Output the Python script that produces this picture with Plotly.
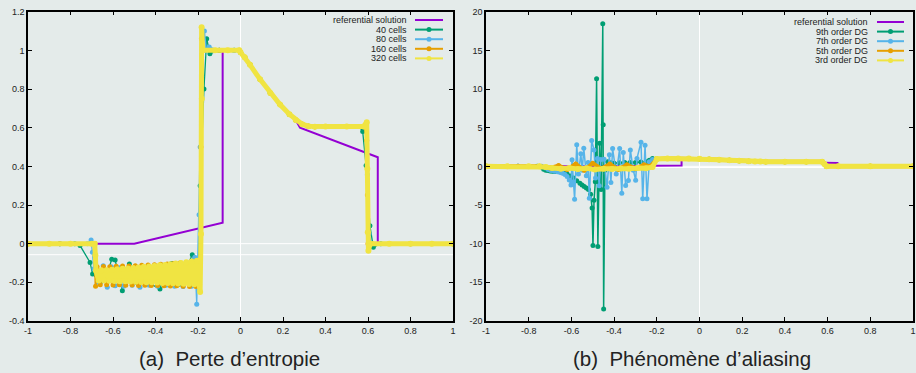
import plotly.graph_objects as go

# ---------------- data ----------------
X_TICKS = [-1, -0.8, -0.6, -0.4, -0.2, 0, 0.2, 0.4, 0.6, 0.8, 1]
X_TICK_LABELS = ["-1", "-0.8", "-0.6", "-0.4", "-0.2", "0", "0.2", "0.4", "0.6", "0.8", "1"]
YA_TICKS = [-0.4, -0.2, 0, 0.2, 0.4, 0.6, 0.8, 1, 1.2]
YA_TICK_LABELS = ["-0.4", "-0.2", "0", "0.2", "0.4", "0.6", "0.8", "1", "1.2"]
YB_TICKS = [-20, -15, -10, -5, 0, 5, 10, 15, 20]
YB_TICK_LABELS = ["-20", "-15", "-10", "-5", "0", "5", "10", "15", "20"]

LABELS_A = ["referential solution", "40 cells", "80 cells", "160 cells", "320 cells"]
LABELS_B = ["referential solution", "9th order DG", "7th order DG", "5th order DG", "3rd order DG"]
CAPTION_A = "(a)\u00a0\u00a0Perte d\u2019entropie"
CAPTION_B = "(b)\u00a0\u00a0Phénomène d\u2019aliasing"

# referential solution (both panels)
ref_x = [-1.0, -0.5, -0.084, -0.084, 0.0, 0.02, 0.045, 0.092, 0.14, 0.186, 0.23, 0.26, 0.28, 0.646, 0.646, 1.0]
ref_y = [0.0, 0.0, 0.109, 1.0, 1.0, 0.965, 0.925, 0.85, 0.78, 0.72, 0.67, 0.64, 0.6, 0.447, 0.0, 0.0]

# shared smooth part (plateau decay)
dec_x = [0.0, 0.02, 0.045, 0.092, 0.14, 0.186, 0.23, 0.26, 0.29, 0.32, 0.35]
dec_y = [0.99, 0.965, 0.925, 0.85, 0.78, 0.72, 0.67, 0.64, 0.618, 0.608, 0.605]

# ---- panel (a) ----
c320_band_x = [-0.68, -0.6675, -0.655, -0.6425, -0.63, -0.6175, -0.605, -0.5925, -0.58, -0.5675,
               -0.555, -0.5425, -0.53, -0.5175, -0.505, -0.4925, -0.48, -0.4675, -0.455, -0.4425,
               -0.43, -0.4175, -0.405, -0.3925, -0.38, -0.3675, -0.355, -0.3425, -0.33, -0.3175,
               -0.305, -0.2925, -0.28, -0.2675, -0.255, -0.2425, -0.23, -0.2175, -0.205, -0.195]
c320_band_y = [-0.14, -0.19, -0.138, -0.19, -0.137, -0.192, -0.135, -0.193, -0.132, -0.195,
               -0.13, -0.194, -0.128, -0.196, -0.126, -0.197, -0.123, -0.198, -0.12, -0.2,
               -0.118, -0.2, -0.115, -0.201, -0.112, -0.203, -0.11, -0.204, -0.106, -0.205,
               -0.103, -0.206, -0.1, -0.207, -0.096, -0.208, -0.092, -0.21, -0.088, -0.21]
c320_x = ([-1.0, -0.9, -0.8, -0.7, -0.686, -0.683] + c320_band_x +
          [-0.19, -0.186, -0.182, -0.183, -0.178, -0.12, -0.06, -0.006] + dec_x +
          [0.4, 0.5, 0.58, 0.594, 0.597, 0.599, 0.602, 0.61, 0.7, 0.8, 0.9, 1.0])
c320_y = ([0.0, 0.0, 0.0, 0.0, 0.0, -0.06] + c320_band_y +
          [-0.25, 0.05, 0.75, 1.12, 1.0, 1.0, 1.0, 1.0] + dec_y +
          [0.606, 0.606, 0.606, 0.628, 0.387, 0.059, -0.036, 0.0, 0.0, 0.0, 0.0, 0.0])

c160_band_x = [-0.675, -0.66, -0.645, -0.63, -0.615, -0.6, -0.585, -0.57, -0.555, -0.54, -0.525,
               -0.51, -0.495, -0.48, -0.465, -0.45, -0.435, -0.42, -0.405, -0.39, -0.375, -0.36,
               -0.345, -0.33, -0.315, -0.3, -0.285, -0.27, -0.255, -0.24, -0.225, -0.21, -0.195]
c160_band_y = [-0.12, -0.212, -0.118, -0.213, -0.12, -0.214, -0.117, -0.212, -0.116, -0.215, -0.115,
               -0.214, -0.114, -0.216, -0.112, -0.215, -0.11, -0.217, -0.109, -0.216, -0.107, -0.218,
               -0.105, -0.219, -0.103, -0.218, -0.1, -0.22, -0.098, -0.221, -0.095, -0.222, -0.09]
c160_x = ([-1.0, -0.85, -0.7, -0.688, -0.682] + c160_band_x +
          [-0.19, -0.186, -0.184, -0.176, -0.1, -0.006] + dec_x +
          [0.45, 0.585, 0.594, 0.597, 0.6, 0.62, 0.8, 1.0])
c160_y = ([0.0, 0.0, 0.0, 0.0, -0.22] + c160_band_y +
          [-0.08, 0.5, 1.06, 1.0, 1.0, 1.0] + dec_y +
          [0.606, 0.606, 0.534, 0.252, 0.0, 0.0, 0.0, 0.0])

c80_x = ([-1.0, -0.85, -0.72, -0.703, -0.697, -0.69, -0.672, -0.646, -0.627, -0.608, -0.59, -0.57,
          -0.55, -0.53, -0.51, -0.49, -0.473, -0.45, -0.43, -0.41, -0.39, -0.37, -0.35, -0.33,
          -0.31, -0.29, -0.27, -0.25, -0.23, -0.215, -0.206, -0.195, -0.19, -0.183, -0.17, -0.16,
          -0.147, -0.1, -0.03] + dec_x +
         [0.45, 0.58, 0.59, 0.597, 0.605, 0.615, 0.8, 1.0])
c80_y = ([0.0, 0.0, 0.0, 0.019, -0.045, -0.13, -0.2, -0.114, -0.226, -0.12, -0.218, -0.125,
          -0.22, -0.13, -0.215, -0.125, -0.226, -0.125, -0.215, -0.12, -0.22, -0.12, -0.215, -0.115,
          -0.22, -0.11, -0.222, -0.1, -0.22, -0.07, -0.313, 0.15, 0.5, 0.865, 1.10, 1.0,
          1.017, 1.0, 1.0] + dec_y +
         [0.606, 0.606, 0.6, 0.357, 0.05, 0.0, 0.0, 0.0])

c40_x = ([-1.0, -0.85, -0.78, -0.755, -0.708, -0.696, -0.66, -0.63, -0.606, -0.59, -0.556, -0.523,
          -0.49, -0.455, -0.42, -0.379, -0.35, -0.324, -0.29, -0.26, -0.227, -0.2, -0.19, -0.172,
          -0.159, -0.144, -0.1, -0.03] + dec_x +
         [0.45, 0.56, 0.575, 0.591, 0.609, 0.625, 0.66, 0.8, 1.0])
c40_y = ([0.0, 0.0, 0.0, -0.01, -0.097, -0.157, -0.2, -0.17, -0.08, -0.085, -0.243, -0.105,
          -0.2, -0.14, -0.21, -0.235, -0.12, -0.102, -0.21, -0.14, -0.057, -0.18, 0.3, 0.80,
          1.06, 0.983, 1.0, 1.0] + dec_y +
         [0.606, 0.606, 0.58, 0.404, 0.093, -0.019, 0.0, 0.0, 0.0])

# ---- panel (b) ----
tail_x = [-0.2, -0.15, -0.1, -0.05, 0.0, 0.045, 0.092, 0.14, 0.186, 0.23, 0.26, 0.285, 0.31,
          0.4, 0.5, 0.575, 0.585, 0.595, 0.65, 0.8, 1.0]
tail_y = [0.95, 1.0, 1.0, 1.0, 0.99, 0.93, 0.853, 0.785, 0.715, 0.66, 0.63, 0.612, 0.606,
          0.606, 0.606, 0.6, 0.3, 0.0, 0.0, 0.0, 0.0]

dg3_x = [-1.0, -0.9, -0.8, -0.75, -0.72, -0.69, -0.65, -0.61, -0.57, -0.53, -0.49, -0.45, -0.41,
         -0.37, -0.33, -0.29, -0.25, -0.22] + tail_x
dg3_y = [0.0, 0.0, 0.0, 0.0, -0.1, -0.2, -0.3, -0.2, -0.35, -0.25, -0.4, -0.3, -0.35,
         -0.25, -0.3, -0.2, -0.25, -0.1] + tail_y

dg5_x = [-1.0, -0.85, -0.75, -0.7, -0.66, -0.62, -0.58, -0.54, -0.5, -0.46, -0.42, -0.38, -0.34,
         -0.3, -0.26, -0.23] + tail_x
dg5_y = [0.0, 0.0, 0.0, -0.2, 0.1, -0.4, 0.3, -0.5, 0.4, -0.3, 0.3, -0.4, 0.2,
         -0.3, 0.2, 0.0] + tail_y

dg7_x = [-1.0, -0.85, -0.74, -0.72, -0.708, -0.695, -0.68, -0.665, -0.652, -0.641, -0.63, -0.62,
         -0.61, -0.602, -0.597, -0.59,
         -0.585, -0.575, -0.567, -0.556, -0.549, -0.542, -0.53, -0.522, -0.516, -0.505, -0.494,
         -0.487, -0.478, -0.47, -0.462, -0.447, -0.433, -0.422, -0.415, -0.407, -0.39, -0.374,
         -0.364, -0.357, -0.346, -0.333, -0.324, -0.31, -0.299, -0.293, -0.274, -0.266, -0.255,
         -0.246, -0.235, -0.22] + tail_x
dg7_y = [0.0, 0.0, 0.0, -0.2, -0.4, -0.54, -0.62, -0.7, -0.8, -0.88, -1.05, -1.3,
         -1.75, -2.4, 0.84, -2.0,
         -4.25, 2.78, -1.0, 1.62, -0.5, 2.35, -1.2, 0.5, -4.12, 3.34, 2.13,
         -1.5, 1.0, -2.5, 0.9, 0.93, -2.7, 1.5, -2.1, 2.3, -1.0, 2.3,
         -3.47, 1.79, -2.48, -1.84, 2.13, -0.5, -1.79, 1.0, 3.13, -4.2, 2.74,
         -4.2, 0.6, 0.9] + tail_y

dg9_x = [-1.0, -0.85, -0.76, -0.74, -0.73, -0.72, -0.71, -0.7, -0.69, -0.68, -0.67, -0.65,
         -0.635, -0.62, -0.605, -0.59, -0.575, -0.56, -0.55, -0.54, -0.53,
         -0.52, -0.51, -0.503, -0.499, -0.494, -0.488, -0.482, -0.476, -0.468, -0.461, -0.453,
         -0.451, -0.449, -0.443, -0.43, -0.415, -0.4, -0.375, -0.35, -0.325, -0.3, -0.275,
         -0.25, -0.235, -0.22] + tail_x
dg9_y = [0.0, 0.0, 0.0, -0.1, -0.36, -0.5, -0.55, -0.6, -0.62, -0.65, -0.68, -0.7,
         -0.85, -1.0, -1.25, -1.5, -1.85, -2.2, -2.4, -2.6, -2.8,
         -3.0, -3.6, -5.4, -10.25, -4.4, -2.0, 11.33, -10.38, 3.0, -3.0, 18.45,
         5.37, -18.45, -0.5, 0.6, 0.45, 0.4, 0.45, 0.5, 0.5, 0.5, 0.55,
         0.6, 0.8, 1.0] + tail_y

for a, b in [(ref_x, ref_y), (c320_x, c320_y), (c160_x, c160_y), (c80_x, c80_y), (c40_x, c40_y),
             (dg3_x, dg3_y), (dg5_x, dg5_y), (dg7_x, dg7_y), (dg9_x, dg9_y), (dec_x, dec_y)]:
    assert len(a) == len(b), (len(a), len(b))

# ---------------- style ----------------
FONT = "Liberation Sans, Arial, sans-serif"
BG = "#e4ebea"
C_REF = "#9400d3"
C_G = "#009e73"
C_B = "#56b4e9"
C_O = "#e69f00"
C_Y = "#f0e442"
W, H = 916, 373

fig = go.Figure()


def add(x, y, color, lw, ms, xa, ya, markers=True):
    fig.add_trace(go.Scatter(
        x=x, y=y, mode="lines+markers" if markers else "lines",
        line=dict(color=color, width=lw),
        marker=dict(color=color, size=ms, line=dict(width=0)),
        xaxis=xa, yaxis=ya, showlegend=False, hoverinfo="skip"))


# panel (a)
add(ref_x, ref_y, C_REF, 2, 0, "x", "y", markers=False)
add(c40_x, c40_y, C_G, 1.3, 5, "x", "y")
add(c80_x, c80_y, C_B, 1.3, 5, "x", "y")
add(c160_x, c160_y, C_O, 2, 5, "x", "y")
add(c320_x, c320_y, C_Y, 5, 6, "x", "y")
# panel (b)
add(ref_x, ref_y, C_REF, 2, 0, "x2", "y2", markers=False)
add(dg9_x, dg9_y, C_G, 1.5, 5, "x2", "y2")
add(dg7_x, dg7_y, C_B, 1.5, 5, "x2", "y2")
add(dg5_x, dg5_y, C_O, 4, 5, "x2", "y2")
add(dg3_x, dg3_y, C_Y, 5, 6, "x2", "y2")

XA_DOM = [28 / W, 453 / W]
XB_DOM = [486 / W, 913 / W]
Y_DOM = [1 - 321 / H, 1 - 11.7 / H]

axis_common = dict(showline=True, mirror="ticks", linecolor="black", linewidth=1.5,
                   ticks="inside", ticklen=4, tickwidth=1, tickcolor="black",
                   showgrid=False, zeroline=False, automargin=False,
                   tickfont=dict(family=FONT, size=9, color="#222"))

fig.update_layout(
    width=W, height=H, margin=dict(l=0, r=0, t=0, b=0, pad=0, autoexpand=False),
    paper_bgcolor=BG, plot_bgcolor=BG, showlegend=False,
    xaxis=dict(domain=XA_DOM, range=[-1, 1], anchor="y", tickvals=X_TICKS,
               ticktext=X_TICK_LABELS, **axis_common),
    yaxis=dict(domain=Y_DOM, range=[-0.4, 1.2], anchor="x", tickvals=YA_TICKS,
               ticktext=YA_TICK_LABELS, **axis_common),
    xaxis2=dict(domain=XB_DOM, range=[-1, 1], anchor="y2", tickvals=X_TICKS,
                ticktext=X_TICK_LABELS, **axis_common),
    yaxis2=dict(domain=Y_DOM, range=[-20, 20], anchor="x2", tickvals=YB_TICKS,
                ticktext=YB_TICK_LABELS, **axis_common),
)

# white zero lines
shapes = []
for xr, yr, yrange, hys in [("x", "y", [-0.4, 1.2], [0, -0.057]), ("x2", "y2", [-20, 20], [0, -0.15])]:
    shapes.append(dict(type="line", xref=xr, yref=yr, x0=0, x1=0, y0=yrange[0], y1=yrange[1],
                       line=dict(color="white", width=1), layer="below"))
    for hy in hys:
        shapes.append(dict(type="line", xref=xr, yref=yr, x0=-1, x1=1, y0=hy, y1=hy,
                           line=dict(color="white", width=1), layer="below"))

annotations = []


def legend(labels, colors, text_right, line_x0, line_x1, rows_py):
    for lab, col, py in zip(labels, colors, rows_py):
        yp = 1 - py / H
        annotations.append(dict(text=lab, xref="paper", yref="paper", x=text_right / W, y=yp,
                                xanchor="right", yanchor="middle", showarrow=False,
                                font=dict(family=FONT, size=9, color="#222")))
        shapes.append(dict(type="line", xref="paper", yref="paper", x0=line_x0 / W, x1=line_x1 / W,
                           y0=yp, y1=yp, line=dict(color=col, width=2)))
        if col != C_REF:
            mx = (line_x0 + line_x1) / 2
            shapes.append(dict(type="circle", xref="paper", yref="paper",
                               x0=(mx - 2.5) / W, x1=(mx + 2.5) / W,
                               y0=yp - 2.5 / H, y1=yp + 2.5 / H,
                               fillcolor=col, line=dict(width=0)))


cols = [C_REF, C_G, C_B, C_O, C_Y]
legend(LABELS_A, cols, 409, 415, 443, [20, 29.6, 39.2, 48.8, 58.4])
legend(LABELS_B, cols, 870, 877, 904, [22, 31.6, 41.2, 50.8, 60.4])

annotations.append(dict(text=CAPTION_A, xref="paper", yref="paper", x=230 / W, y=1 - 358 / H,
                        xanchor="center", yanchor="middle", showarrow=False,
                        font=dict(family=FONT, size=20.5, color="#222")))
annotations.append(dict(text=CAPTION_B, xref="paper", yref="paper", x=692 / W, y=1 - 358 / H,
                        xanchor="center", yanchor="middle", showarrow=False,
                        font=dict(family=FONT, size=20.5, color="#222")))

fig.update_layout(shapes=shapes, annotations=annotations)
fig.write_html("out.html")
